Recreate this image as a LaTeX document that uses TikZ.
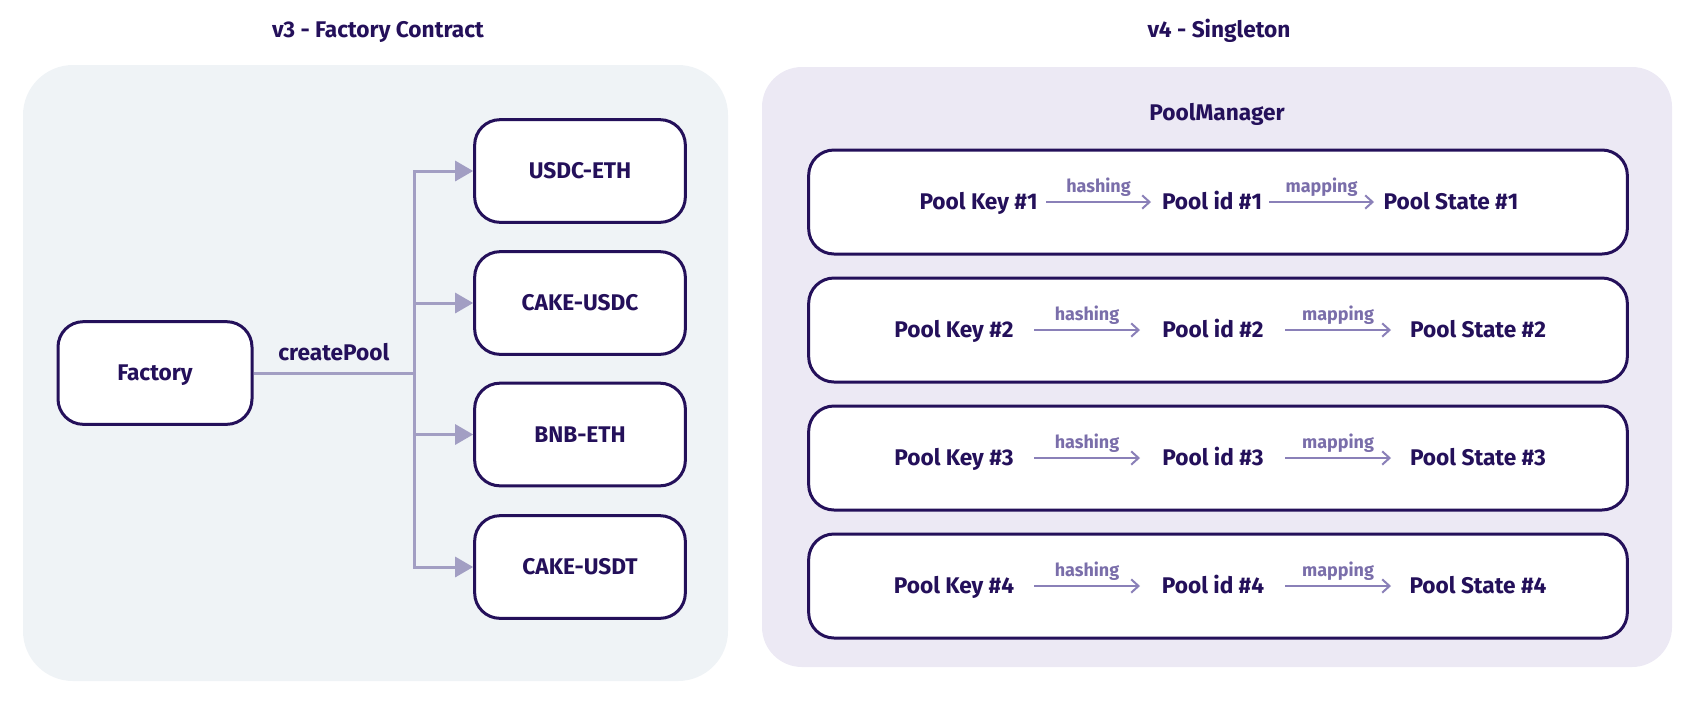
\documentclass[tikz,border=0pt]{standalone}
\usepackage{fontspec}
\setmainfont{Fira Sans}
\usetikzlibrary{arrows.meta}
\definecolor{ink}{HTML}{24105A}
\definecolor{leftbg}{HTML}{EFF3F6}
\definecolor{rightbg}{HTML}{ECE9F4}
\definecolor{conn}{HTML}{A29EC3}
\definecolor{lab}{HTML}{7A6EAA}
\definecolor{thin}{HTML}{8A80B8}
\begin{document}
\begin{tikzpicture}[x=0.75pt,y=-0.75pt,
  title/.style={font=\fontsize{17}{20}\selectfont\bfseries, text=ink, text height=11.7pt, text depth=0pt, inner sep=0pt},
  pool/.style={draw=ink, fill=white, line width=2.25pt, rounded corners=19pt,
    minimum width=158pt, minimum height=77pt, inner sep=0pt,
    font=\fontsize{17}{20}\selectfont\bfseries, text=ink, text height=11.7pt, text depth=0pt},
  rowbox/.style={draw=ink, fill=white, line width=2.25pt, rounded corners=19pt,
    minimum width=614pt, minimum height=78pt, inner sep=0pt},
  item/.style={font=\fontsize{17}{20}\selectfont\bfseries, text=ink, text height=11.7pt, text depth=0pt, inner sep=0pt},
  lbl/.style={font=\fontsize{13.5}{16}\selectfont\bfseries, text=lab, anchor=base, inner sep=0pt},
  connarrow/.style={draw=conn, line width=2.25pt, -{Triangle[length=13.5pt,width=15pt]}},
  connline/.style={draw=conn, line width=2.25pt},
  small/.style={draw=thin, line width=1.5pt, -{Straight Barb[length=5.5pt,width=10pt]}}
]
\useasboundingbox (0,0) rectangle (1708,708);

% panels
\fill[leftbg, rounded corners=37.5pt] (23,65) rectangle (728,681);
\fill[rightbg, rounded corners=30pt] (762,67) rectangle (1672,667);

% titles
\node[title] (t3) at (378,30) {v3 - Factory Contract};
\node[title] (t4) at (1219,30) {v4 - Singleton};
\node[title] (pm) at (1217,113) {PoolManager};

% v3 factory
\node[pool, minimum width=145.5pt] (fac) at (155,373) {Factory};
\node[pool] (p1) at (580,171) {USDC-ETH};
\node[pool] (p2) at (580,303) {CAKE-USDC};
\node[pool] (p3) at (580,434.5) {BNB-ETH};
\node[pool] (p4) at (580,567) {CAKE-USDT};
\coordinate (j) at (414,373);
\draw[connline] (fac.east) -- (j) node[midway, lbl, text=ink, font=\fontsize{17}{20}\selectfont\bfseries, yshift=9.75pt] (cp) {createPool};
\draw[connarrow] (j) |- (p1.west);
\draw[connarrow] (j) |- (p2.west);
\draw[connarrow] (j) |- (p3.west);
\draw[connarrow] (j) |- (p4.west);

% v4 singleton rows
\node[rowbox] (r1) at (1218,202) {};
\node[rowbox] (r2) at (1218,330) {};
\node[rowbox] (r3) at (1218,458) {};
\node[rowbox] (r4) at (1218,586) {};

% row 1
\node[item] (k1) at (978.5,202) {Pool Key \#1};
\node[item] (i1) at (1212,202) {Pool id \#1};
\node[item] (s1) at (1451,202) {Pool State \#1};
\coordinate (h1s) at (1046,202); \coordinate (h1e) at (1151,202);
\coordinate (m1s) at (1269,202); \coordinate (m1e) at (1374,202);
\draw[small] (h1s) -- (h1e) node[midway, lbl, yshift=7.5pt] {hashing};
\draw[small] (m1s) -- (m1e) node[midway, lbl, yshift=7.5pt] {mapping};

% rows 2-4
\foreach \n/\y in {2/330,3/458,4/586}{
  \node[item] (k\n) at (954,\y) {Pool Key \#\n};
  \node[item] (i\n) at (1213,\y) {Pool id \#\n};
  \node[item] (s\n) at (1478,\y) {Pool State \#\n};
  \coordinate (h\n s) at (1034,\y); \coordinate (h\n e) at (1140,\y);
  \coordinate (m\n s) at (1285,\y); \coordinate (m\n e) at (1391,\y);
  \draw[small] (h\n s) -- (h\n e) node[midway, lbl, yshift=7.5pt] {hashing};
  \draw[small] (m\n s) -- (m\n e) node[midway, lbl, yshift=7.5pt] {mapping};
}
\end{tikzpicture}
\end{document}
